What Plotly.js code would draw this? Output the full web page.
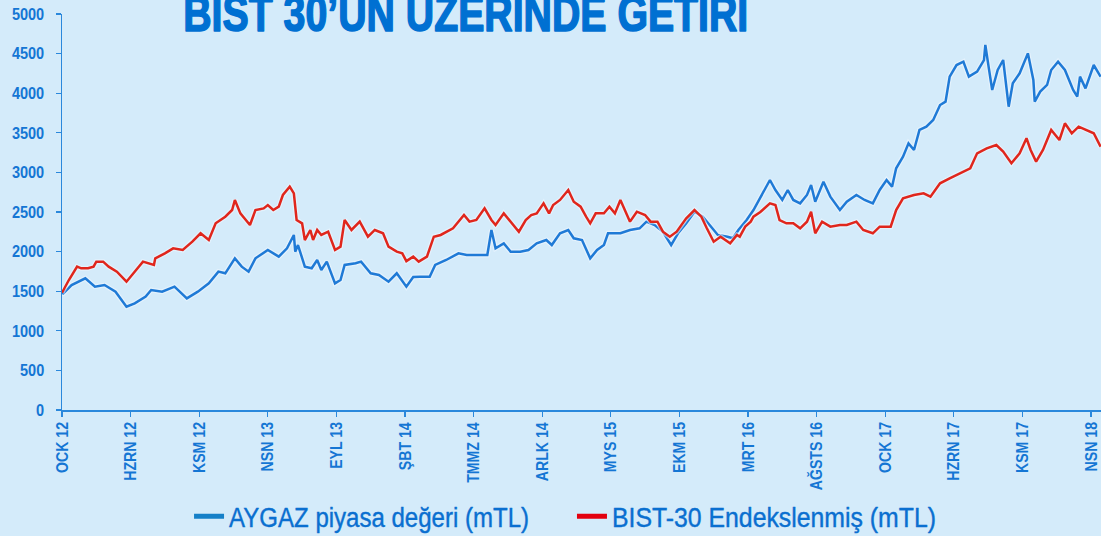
<!DOCTYPE html>
<html>
<head>
<meta charset="utf-8">
<script src="https://cdn.plot.ly/plotly-3.0.1.min.js"></script>
<style>
  html, body { margin: 0; padding: 0; background: #d4ebfa; }
  #chart { width: 1101px; height: 536px; }
</style>
</head>
<body>
<div id="chart"></div>
<script>
// Time is expressed in months since January 2012 (OCK 12 = 0)
const tickMonths = [0, 5, 10, 15, 20, 25, 30, 35, 40, 45, 50, 55, 60, 65, 70, 75];
const tickLabels = ["OCK 12", "HZRN 12", "KSM 12", "NSN 13", "EYL 13", "ŞBT 14", "TMMZ 14", "ARLK 14",
                    "MYS 15", "EKM 15", "MRT 16", "AĞSTS 16", "OCK 17", "HZRN 17", "KSM 17", "NSN 18"];

const seriesNames = ["AYGAZ piyasa değeri (mTL)", "BIST-30 Endekslenmiş (mTL)"];

const tAygaz = [0, 0.1, 0.7, 1.7, 2.4, 3.1, 3.9, 4.7, 5.3, 6.1,
  6.5, 7.3, 8.2, 9.1, 9.9, 10.7, 11.4, 11.9, 12.6, 13.1,
  13.6, 14.1, 15.0, 15.8, 16.4, 16.9, 17.0, 17.2, 17.7, 18.2,
  18.6, 18.9, 19.3, 19.9, 20.3, 20.6, 21.4, 21.8, 22.5, 23.1,
  23.8, 24.4, 25.1, 25.6, 26.1, 26.8, 27.2, 28.0, 28.9, 29.5,
  30.2, 31.0, 31.3, 31.6, 32.2, 32.7, 33.4, 34.0, 34.6, 35.3,
  35.7, 36.3, 36.9, 37.3, 37.9, 38.2, 38.5, 39.0, 39.5, 39.8,
  40.7, 41.4, 42.1, 42.6, 43.2, 43.8, 44.4, 44.9, 45.5, 46.1,
  46.7, 47.4, 47.8, 48.5, 48.9, 49.3, 49.9, 50.4, 50.8, 51.2,
  51.6, 52.0, 52.5, 52.9, 53.3, 53.8, 54.3, 54.6, 54.9, 55.5,
  56.0, 56.7, 57.2, 57.9, 58.5, 59.1, 59.6, 60.1, 60.5, 60.8,
  61.3, 61.7, 62.1, 62.5, 63.0, 63.5, 64.0, 64.4, 64.7, 65.2,
  65.7, 66.1, 66.7, 67.2, 67.3, 67.5, 67.8, 68.2, 68.6, 69.0,
  69.3, 69.8, 70.4, 70.8, 70.9, 71.3, 71.8, 72.1, 72.6, 73.1,
  73.7, 74.0, 74.2, 74.6, 75.2, 75.7];
const vAygaz = [1480, 1473, 1578, 1663, 1557, 1578, 1494, 1304, 1347, 1431,
  1515, 1494, 1557, 1410, 1494, 1599, 1747, 1726, 1915, 1810,
  1747, 1915, 2020, 1936, 2041, 2210, 1999, 2083, 1810, 1789,
  1894, 1768, 1873, 1599, 1641, 1831, 1852, 1873, 1726, 1705,
  1620, 1726, 1557, 1680, 1683, 1683, 1831, 1894, 1978, 1957,
  1957, 1957, 2273, 2041, 2104, 1999, 1999, 2020, 2104, 2146,
  2083, 2231, 2273, 2168, 2146, 2020, 1915, 2020, 2083, 2231,
  2231, 2273, 2294, 2378, 2336, 2251, 2083, 2231, 2357, 2504,
  2441, 2294, 2210, 2188, 2168, 2273, 2400, 2525, 2652, 2778,
  2904, 2778, 2652, 2778, 2652, 2609, 2715, 2841, 2630, 2883,
  2694, 2525, 2630, 2715, 2652, 2609, 2778, 2904, 2820, 3052,
  3199, 3367, 3283, 3536, 3578, 3662, 3851, 3893, 4209, 4356,
  4398, 4209, 4272, 4419, 4609, 4377, 4040, 4293, 4419, 3830,
  4125, 4251, 4503, 4167, 3893, 4020, 4104, 4293, 4398, 4293,
  4040, 3956, 4209, 4061, 4356, 4209];

const tBist = [0, 0.1, 0.5, 1.1, 1.4, 1.9, 2.3, 2.5, 3.0, 3.4,
  4.0, 4.7, 5.3, 5.9, 6.7, 6.8, 7.5, 8.1, 8.8, 9.5,
  10.1, 10.7, 11.2, 11.9, 12.4, 12.6, 13.0, 13.7, 14.1, 14.7,
  15.0, 15.4, 15.8, 16.1, 16.6, 16.9, 17.1, 17.5, 17.7, 18.1,
  18.3, 18.6, 18.9, 19.4, 19.9, 20.3, 20.6, 21.1, 21.7, 22.3,
  22.8, 23.4, 23.8, 24.4, 24.8, 25.1, 25.6, 26.0, 26.6, 27.1,
  27.6, 28.0, 28.5, 29.3, 29.7, 30.2, 30.8, 31.3, 31.6, 32.2,
  32.7, 33.3, 33.8, 34.2, 34.6, 35.1, 35.5, 35.8, 36.3, 36.9,
  37.3, 37.8, 38.2, 38.5, 38.9, 39.5, 39.9, 40.3, 40.7, 41.2,
  41.4, 41.9, 42.5, 42.9, 43.4, 43.8, 44.3, 44.8, 45.5, 46.1,
  46.6, 47.0, 47.5, 48.0, 48.7, 49.2, 49.4, 49.8, 50.2, 50.4,
  50.9, 51.6, 52.0, 52.3, 52.8, 53.3, 53.8, 54.3, 54.6, 54.9,
  55.4, 56.0, 56.7, 57.2, 57.9, 58.4, 59.1, 59.6, 60.4, 60.8,
  61.3, 62.1, 62.8, 63.3, 64.0, 64.7, 65.5, 66.2, 66.7, 67.4,
  68.1, 68.6, 69.2, 69.8, 70.3, 70.6, 71.0, 71.5, 72.1, 72.7,
  73.1, 73.6, 74.1, 74.7, 75.2, 75.7];
const vBist = [1480, 1515, 1641, 1810, 1789, 1789, 1810, 1873, 1873, 1810,
  1747, 1620, 1747, 1873, 1831, 1915, 1978, 2041, 2020, 2125,
  2231, 2146, 2357, 2441, 2525, 2652, 2483, 2336, 2525, 2546,
  2588, 2525, 2567, 2715, 2820, 2736, 2399, 2357, 2146, 2273,
  2146, 2273, 2210, 2251, 2020, 2062, 2399, 2273, 2378, 2188,
  2273, 2231, 2062, 1999, 1978, 1880, 1936, 1873, 1936, 2188,
  2210, 2251, 2294, 2462, 2378, 2399, 2546, 2399, 2336, 2483,
  2378, 2251, 2399, 2462, 2483, 2609, 2483, 2588, 2652, 2778,
  2630, 2567, 2441, 2357, 2483, 2483, 2567, 2483, 2652, 2462,
  2378, 2504, 2462, 2378, 2378, 2251, 2188, 2251, 2420, 2525,
  2441, 2294, 2125, 2188, 2104, 2210, 2188, 2315, 2378, 2441,
  2500, 2609, 2588, 2399, 2357, 2357, 2294, 2378, 2504, 2231,
  2378, 2315, 2336, 2336, 2378, 2273, 2231, 2315, 2315, 2525,
  2673, 2715, 2736, 2694, 2862, 2925, 2988, 3052, 3241, 3304,
  3346, 3262, 3115, 3241, 3431, 3283, 3136, 3283, 3536, 3409,
  3620, 3494, 3578, 3536, 3494, 3325];

const titleText = "BIST 30’UN ÜZERİNDE GETİRİ";

const bg = "#d4ebfa";
const axisColor = "#2a88dc";
const textBlue = "#1476d4";
const blueLine = "#1f7ad6";
const redLine = "#e0261c";
const font = "'Liberation Sans', Arial, sans-serif";

const halo = (x, y) => ({
  x: x, y: y, type: "scatter", mode: "lines", showlegend: false, hoverinfo: "skip",
  line: { color: "rgba(240,248,255,0.55)", width: 5 }
});

const traces = [
  halo(tAygaz, vAygaz),
  { x: tAygaz, y: vAygaz, type: "scatter", mode: "lines", name: seriesNames[0], showlegend: false,
    line: { color: blueLine, width: 2.5 } },
  halo(tBist, vBist),
  { x: tBist, y: vBist, type: "scatter", mode: "lines", name: seriesNames[1], showlegend: false,
    line: { color: redLine, width: 2.5 } },
  // legend entries
  { x: [null], y: [null], type: "scatter", mode: "lines", name: seriesNames[0], showlegend: true,
    legend: "legend", line: { color: "#1580c8", width: 5 } },
  { x: [null], y: [null], type: "scatter", mode: "lines", name: seriesNames[1], showlegend: true,
    legend: "legend2", line: { color: "#e3000f", width: 5 } }
];

const legendFont = { family: font, size: 27, color: "#0a6fd0" };
const layout = {
  width: 1101, height: 536,
  margin: { l: 62, r: 0, t: 14, b: 126, pad: 0, autoexpand: false },
  paper_bgcolor: bg, plot_bgcolor: bg,
  showlegend: true,
  legend: {
    orientation: "h", xref: "container", yref: "container", x: 0.1717, xanchor: "left",
    y: 0.036, yanchor: "middle", font: legendFont, bgcolor: "rgba(0,0,0,0)", itemwidth: 30
  },
  legend2: {
    orientation: "h", xref: "container", yref: "container", x: 0.5195, xanchor: "left",
    y: 0.036, yanchor: "middle", font: legendFont, bgcolor: "rgba(0,0,0,0)", itemwidth: 30
  },
  xaxis: {
    range: [0, 75.73], tickmode: "array", tickvals: tickMonths, ticktext: tickLabels,
    tickangle: -90, ticks: "outside", ticklen: 5, tickwidth: 1.2, tickcolor: axisColor,
    showline: true, linecolor: axisColor, linewidth: 1.5, showgrid: false, zeroline: false,
    tickfont: { family: font, size: 17, color: textBlue, weight: "bold" },
    ticklabelstandoff: 8, fixedrange: true, automargin: false
  },
  yaxis: {
    range: [0, 5000], dtick: 500, tick0: 0, ticks: "outside", ticklen: 5, tickwidth: 1.2,
    tickcolor: axisColor, showline: true, linecolor: axisColor, linewidth: 1.5,
    showgrid: false, zeroline: false,
    tickfont: { family: font, size: 16.5, color: textBlue, weight: "bold" },
    ticklabelstandoff: 8, fixedrange: true, automargin: false
  },
  annotations: [{
    text: titleText, xref: "paper", yref: "paper", x: 0.3884, y: 1, xanchor: "center", yanchor: "middle",
    yshift: 0, showarrow: false,
    font: { family: font, size: 50, color: "#0070d2", weight: "bold" }
  }]
};

// The reference uses a condensed typeface: narrow the glyphs of each real text element.
const legendWidths = {};
legendWidths[seriesNames[0]] = 300;
legendWidths[seriesNames[1]] = 324;

function condenseEl(t, target, strokeW) {
  if (!t.hasAttribute("data-w0")) t.setAttribute("data-w0", t.getComputedTextLength());
  t.setAttribute("textLength", target.toFixed(1));
  t.setAttribute("lengthAdjust", "spacingAndGlyphs");
  if (strokeW) {
    t.style.stroke = t.style.fill || "currentColor";
    t.style.strokeWidth = strokeW + "px";
    t.style.strokeLinejoin = "round";
  }
}
function w0(t) {
  return t.hasAttribute("data-w0") ? parseFloat(t.getAttribute("data-w0")) : t.getComputedTextLength();
}
function finish() {
  const gd = document.getElementById("chart");
  const top0 = gd.getBoundingClientRect().top;
  document.querySelectorAll(".xtick text").forEach(function (t) {
    condenseEl(t, w0(t) * 0.83);
    if (!t.hasAttribute("data-tf0")) t.setAttribute("data-tf0", t.getAttribute("transform") || "");
    t.setAttribute("transform", t.getAttribute("data-tf0"));
    const r = t.getBoundingClientRect();
    const dy = 422 - (r.top - top0);
    t.setAttribute("transform", "translate(0," + dy.toFixed(1) + ") " + t.getAttribute("data-tf0"));
  });
  document.querySelectorAll(".ytick text").forEach(function (t) { condenseEl(t, w0(t) * 0.88); });
  document.querySelectorAll("#chart text").forEach(function (t) {
    const tw = legendWidths[t.textContent];
    if (tw) condenseEl(t, tw, 0.4);
  });
  document.querySelectorAll(".annotation-text").forEach(function (t) { condenseEl(t, 565, 1.6); });
}

Plotly.newPlot("chart", traces, layout, { displayModeBar: false, staticPlot: true }).then(function () {
  finish();
  document.getElementById("chart").on("plotly_afterplot", finish);
  setTimeout(finish, 30);
  setTimeout(finish, 200);
});
</script>
</body>
</html>
